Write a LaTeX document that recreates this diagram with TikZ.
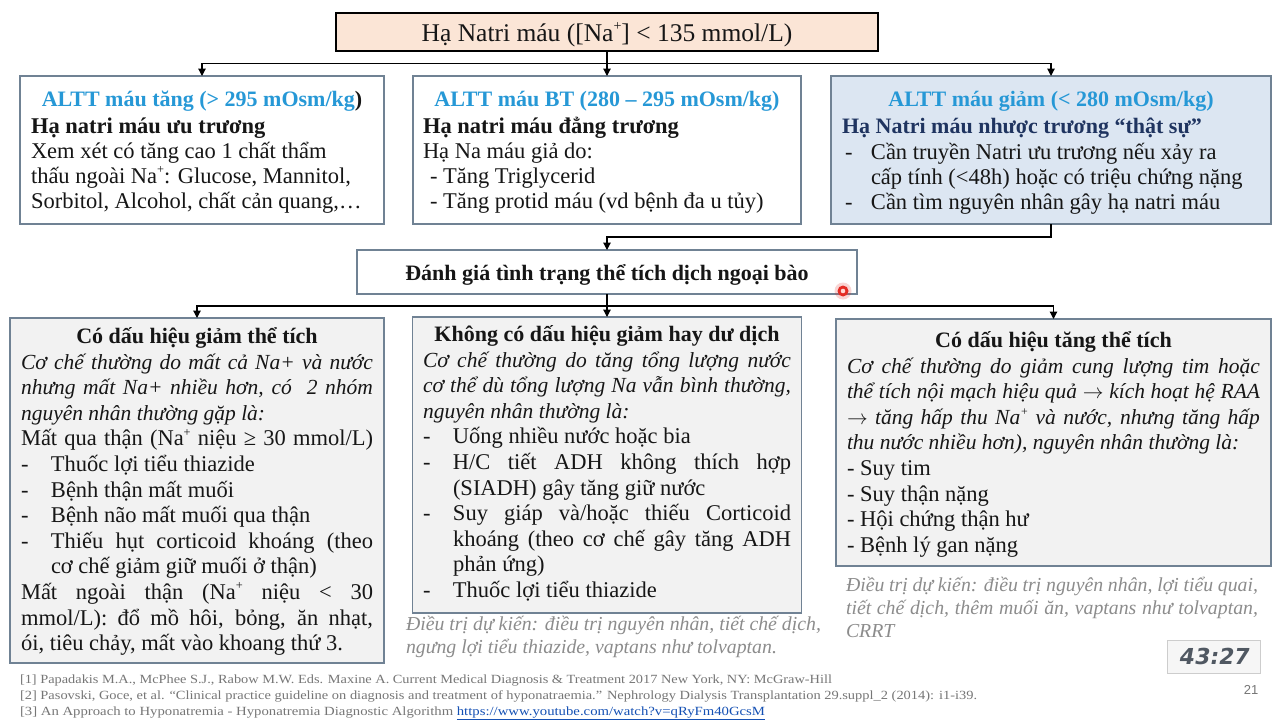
\documentclass[tikz,border=0pt]{standalone}
\usepackage{fontspec}
\usepackage{graphicx}
\setmainfont{Liberation Serif}
\newfontfamily\sansfont{Liberation Sans}
\newfontfamily\clockfont{DejaVu Sans}[FakeSlant=0.18]
\usetikzlibrary{arrows.meta}

\definecolor{hdrcyan}{RGB}{38,152,214}
\definecolor{navy}{RGB}{31,52,96}
\definecolor{peach}{RGB}{251,229,214}
\definecolor{paleblue}{RGB}{220,230,242}
\definecolor{palegray}{RGB}{242,242,242}
\definecolor{framecol}{RGB}{112,130,148}
\definecolor{notegray}{RGB}{140,140,140}
\definecolor{refgray}{RGB}{118,118,118}
\definecolor{linkblue}{RGB}{20,80,180}
\definecolor{ink}{RGB}{22,22,22}
\definecolor{clockframe}{RGB}{205,205,205}
\definecolor{clockfill}{RGB}{246,246,246}
\definecolor{clockink}{RGB}{80,88,98}
\definecolor{pointerred}{RGB}{228,44,36}
\definecolor{pointercore}{RGB}{255,215,210}

% font sizes (1pt = 1px of the 1280x720 page)
\newcommand\titlefont{\fontsize{25.5}{28}\selectfont}
\newcommand\hdfont{\bfseries\fontsize{22}{25}\selectfont}
\newcommand\rowfont{\fontsize{22.5}{25}\selectfont}
\newcommand\boxfont{\fontsize{22.5}{25.6}\selectfont}
\newcommand\itfont{\itshape\fontsize{21.5}{25.6}\selectfont}
\newcommand\notefont{\itshape\fontsize{19.8}{23}\selectfont}
\newcommand\reffont{\fontsize{12.5}{16}\selectfont}

% small raised plus sign of Na+, and a long thin arrow
\newcommand\supp{\raisebox{0.42em}{\scalebox{0.55}{+}}}
\newcommand\rarr{$\rightarrow$}

% a block of lines with a fixed baseline distance; baseline = first line
\newcommand\colblock[2]{\parbox[t]{#1}{\lineskiplimit=-100pt\relax\parindent=0pt\relax #2}}
% justified full line, dash items and their continuation lines
\newlength\dashind
\newcommand\fullj[1]{\makebox[\linewidth][s]{#1}}
\newcommand\itemln[1]{\makebox[\dashind][l]{-}#1}
\newcommand\itemj[1]{\makebox[\dashind][l]{-}\makebox[\dimexpr\linewidth-\dashind\relax][s]{#1}}
\newcommand\contln[1]{\hspace*{\dashind}#1}
\newcommand\contj[1]{\hspace*{\dashind}\makebox[\dimexpr\linewidth-\dashind\relax][s]{#1}}

\begin{document}
\begin{tikzpicture}[x=1pt,y=-1pt,
  box/.style={rectangle, draw=framecol, line width=1.4pt, inner sep=0pt, outer sep=0pt, anchor=north west},
  txt/.style={inner sep=0pt, outer sep=0pt, anchor=base west, text=ink},
  ctxt/.style={inner sep=0pt, outer sep=0pt, anchor=base, text=ink},
  conn/.style={draw=black, line width=1.2pt},
  arr/.style={conn, -{Triangle[width=7.5pt,length=7.5pt]}}]

\useasboundingbox (0,0) rectangle (1280,720);
\fill[white] (0,0) rectangle (1280,720);

% ---------- boxes ----------
\node[box, draw=black, line width=1.2pt, fill=peach, minimum width=542pt, minimum height=38pt] (top) at (336,13) {};
\node[box, fill=white, minimum width=364pt, minimum height=148pt] (hyper) at (20,76) {};
\node[box, fill=white, minimum width=388pt, minimum height=148pt] (iso) at (413,76) {};
\node[box, fill=paleblue, minimum width=440pt, minimum height=148pt] (hypo) at (831,76) {};
\node[box, fill=white, minimum width=500pt, minimum height=44pt] (assess) at (357,250) {};
\node[box, fill=palegray, minimum width=374pt, minimum height=345pt] (lowvol) at (10,318) {};
\node[box, fill=palegray, minimum width=389pt, minimum height=296pt] (euvol) at (412.5,317) {};
\node[box, fill=palegray, minimum width=435pt, minimum height=247pt] (highvol) at (836,319) {};

% ---------- connectors ----------
\coordinate (bus1) at (607,63.5);
\draw[arr] (top.south) -- (iso.north);
\draw[arr] (bus1) -| (hyper.north);
\draw[arr] (bus1) -| (hypo.north);

\coordinate (bus2) at (607,237);
\draw[arr] (hypo.south) |- (bus2) -- (assess.north);

\coordinate (bus3) at (607,306);
\draw[arr] (assess.south) -- (euvol.north);
\draw[arr] (bus3) -| (lowvol.north);
\draw[arr] (bus3) -| (highvol.north);

% ---------- title ----------
\node[ctxt, font=\titlefont] (toptext) at (top.center |- 0,41) {Hạ Natri máu ([Na\supp] < 135 mmol/L)};

% ---------- serum osmolality row ----------
\node[ctxt, font=\hdfont] (hyperhd) at (hyper.north |- 0,106) {\textcolor{hdrcyan}{ALTT máu tăng (> 295 mOsm/kg}\textcolor{ink}{)}};
\node[txt, font=\rowfont] (hyperbody) at (31,133) {\colblock{400pt}{%
\textbf{Hạ natri máu ưu trương}\\
Xem xét có tăng cao 1 chất thẩm\\
thấu ngoài Na\supp: Glucose, Mannitol,\\
Sorbitol, Alcohol, chất cản quang,…}};

\node[ctxt, font=\hdfont, text=hdrcyan] (isohd) at (iso.north |- 0,106) {ALTT máu BT (280 – 295 mOsm/kg)};
\node[txt, font=\rowfont] (isobody) at (423,133) {\colblock{400pt}{%
\textbf{Hạ natri máu đẳng trương}\\
Hạ Na máu giả do:\\
\hspace*{7pt}- Tăng Triglycerid\\
\hspace*{7pt}- Tăng protid máu (vd bệnh đa u tủy)}};

\node[ctxt, font=\hdfont, text=hdrcyan] (hypohd) at (hypo.north |- 0,106) {ALTT máu giảm (< 280 mOsm/kg)};
\node[txt, font=\hdfont, text=navy] (hyposub) at (842,133) {Hạ Natri máu nhược trương “thật sự”};
\node[txt, font=\rowfont] (hypobody) at (845,159) {\colblock{425pt}{\setlength\dashind{26pt}%
\itemln{Cần truyền Natri ưu trương nếu xảy ra}\\
\contln{cấp tính (<48h) hoặc có triệu chứng nặng}\\
\itemln{Cần tìm nguyên nhân gây hạ natri máu}}};

% ---------- assessment ----------
\node[ctxt, font=\hdfont] (assesstext) at (assess.north |- 0,280) {Đánh giá tình trạng thể tích dịch ngoại bào};

% ---------- volume status boxes ----------
\node[ctxt, font=\hdfont] (lowhd) at (lowvol.north |- 0,343) {Có dấu hiệu giảm thể tích};
\node[txt, font=\boxfont] (lowbody) at (21,369) {\colblock{352pt}{\setlength\dashind{30pt}%
\itfont
\fullj{Cơ chế thường do mất cả Na+ và nước}\\
\fullj{nhưng mất Na+ nhiều hơn, có\ \ 2 nhóm}\\
nguyên nhân thường gặp là:\\
\boxfont\upshape
\fullj{Mất qua thận (Na\supp{} niệu ≥ 30 mmol/L)}\\
\itemln{Thuốc lợi tiểu thiazide}\\
\itemln{Bệnh thận mất muối}\\
\itemln{Bệnh não mất muối qua thận}\\
\itemj{Thiếu hụt corticoid khoáng (theo}\\
\contln{cơ chế giảm giữ muối ở thận)}\\
\fullj{Mất ngoài thận (Na\supp{} niệu < 30}\\
\fullj{mmol/L): đổ mồ hôi, bỏng, ăn nhạt,}\\
ói, tiêu chảy, mất vào khoang thứ 3.}};

\node[ctxt, font=\hdfont] (euhd) at (euvol.north |- 0,341) {Không có dấu hiệu giảm hay dư dịch};
\node[txt, font=\boxfont] (eubody) at (423,367) {\colblock{368pt}{\setlength\dashind{30pt}%
\itfont
\fullj{Cơ chế thường do tăng tổng lượng nước}\\
\fullj{cơ thể dù tổng lượng Na vẫn bình thường,}\\
nguyên nhân thường là:\\
\boxfont\upshape
\itemln{Uống nhiều nước hoặc bia}\\
\itemj{H/C tiết ADH không thích hợp}\\
\contln{(SIADH) gây tăng giữ nước}\\
\itemj{Suy giáp và/hoặc thiếu Corticoid}\\
\contj{khoáng (theo cơ chế gây tăng ADH}\\
\contln{phản ứng)}\\
\itemln{Thuốc lợi tiểu thiazide}}};
\node[txt, font=\notefont, text=notegray] (eunote) at (406,630) {\colblock{440pt}{%
Điều trị dự kiến: điều trị nguyên nhân, tiết chế dịch,\\
ngưng lợi tiểu thiazide, vaptans như tolvaptan.}};

\node[ctxt, font=\hdfont] (highhd) at (highvol.north |- 0,347) {Có dấu hiệu tăng thể tích};
\node[txt, font=\boxfont] (highbody) at (847,373) {\colblock{413pt}{%
\itfont
\fullj{Cơ chế thường do giảm cung lượng tim hoặc}\\
\fullj{thể tích nội mạch hiệu quả \rarr{} kích hoạt hệ RAA}\\
\fullj{\rarr{} tăng hấp thu Na\supp{} và nước, nhưng tăng hấp}\\
thu nước nhiều hơn), nguyên nhân thường là:\\
\boxfont\upshape
- Suy tim\\
- Suy thận nặng\\
- Hội chứng thận hư\\
- Bệnh lý gan nặng}};
\node[txt, font=\notefont, text=notegray] (highnote) at (846,591) {\colblock{412pt}{%
\fullj{Điều trị dự kiến: điều trị nguyên nhân, lợi tiểu quai,}\\
\fullj{tiết chế dịch, thêm muối ăn, vaptans như tolvaptan,}\\
CRRT}};

% ---------- references ----------
\node[txt, font=\reffont, text=refgray] (ref1) at (20,683) {\resizebox{812pt}{\height}{[1] Papadakis M.A., McPhee S.J., Rabow M.W. Eds. Maxine A. Current Medical Diagnosis \& Treatment 2017 New York, NY: McGraw-Hill}};
\node[txt, font=\reffont, text=refgray] (ref2) at (20,699) {\resizebox{957pt}{\height}{[2] Pasovski, Goce, et al. “Clinical practice guideline on diagnosis and treatment of hyponatraemia.” Nephrology Dialysis Transplantation 29.suppl\_2 (2014): i1-i39.}};
\node[txt, font=\reffont, text=refgray] (ref3) at (20,715) {\resizebox{745pt}{\height}{[3] An Approach to Hyponatremia - Hyponatremia Diagnostic Algorithm \textcolor{linkblue}{\underline{https://www.youtube.com/watch?v=qRyFm40GcsM}}}};

% ---------- page number and clock ----------
\node[ctxt, font=\sansfont\fontsize{13}{15}\selectfont, text=refgray] (pageno) at (1251,694) {21};
\node[box, draw=clockframe, line width=0.8pt, fill=clockfill, minimum width=93pt, minimum height=33pt] (clock) at (1167,640) {};
\node[font=\clockfont\bfseries\fontsize{22}{24}\selectfont, text=clockink, inner sep=0pt] (clocktext) at (clock.center) {43:27};

% ---------- pointer ----------
\fill[pointerred, opacity=0.2] (843,291) circle (8.5);
\fill[pointerred] (843,291) circle (5.5);
\fill[pointercore] (843,291) circle (2.3);
\end{tikzpicture}
\end{document}
